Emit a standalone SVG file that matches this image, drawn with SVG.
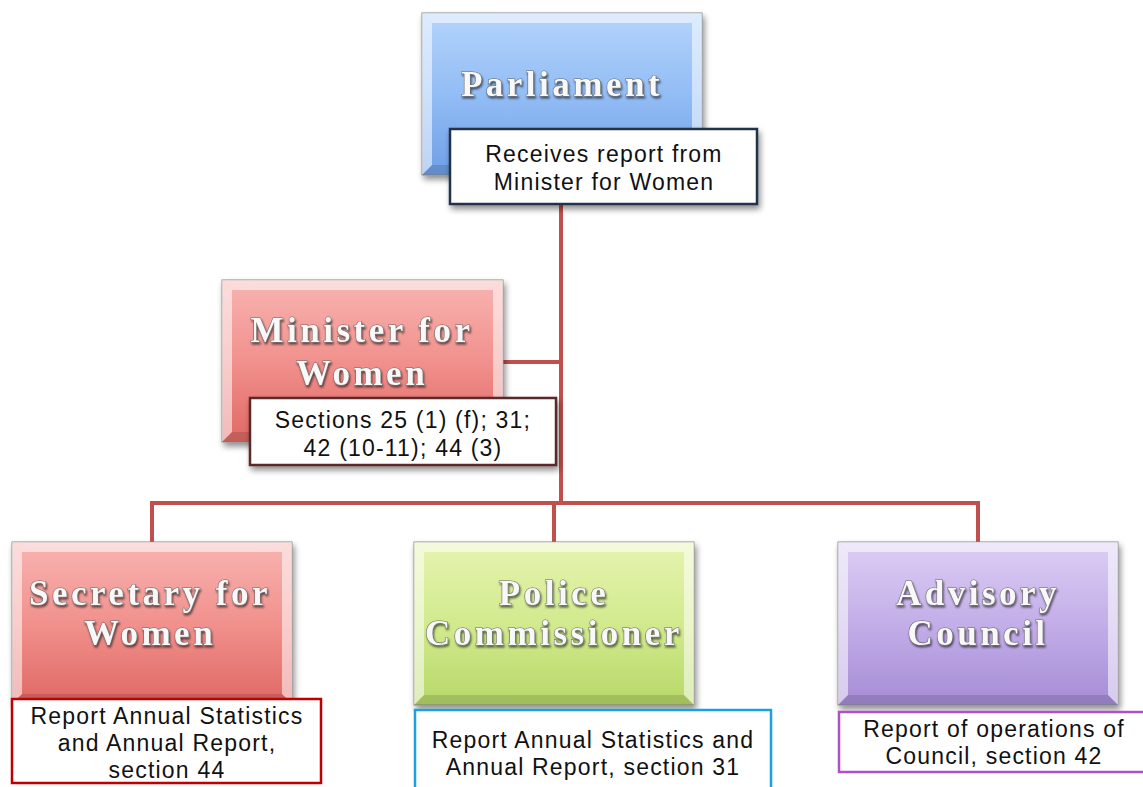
<svg xmlns="http://www.w3.org/2000/svg" width="1143" height="787" viewBox="0 0 1143 787">
<defs>
<linearGradient id="gBlue" x1="0" y1="0" x2="0" y2="1"><stop offset="0" stop-color="#b4d4fb"/><stop offset="0.5" stop-color="#93bdf5"/><stop offset="1" stop-color="#6e9fe6"/></linearGradient>
<linearGradient id="gRed" x1="0" y1="0" x2="0" y2="1"><stop offset="0" stop-color="#f8b4b1"/><stop offset="0.5" stop-color="#f1918d"/><stop offset="1" stop-color="#e06864"/></linearGradient>
<linearGradient id="gGreen" x1="0" y1="0" x2="0" y2="1"><stop offset="0" stop-color="#e6f4b0"/><stop offset="0.5" stop-color="#d2ea8e"/><stop offset="1" stop-color="#b7d868"/></linearGradient>
<linearGradient id="gPurple" x1="0" y1="0" x2="0" y2="1"><stop offset="0" stop-color="#dccef4"/><stop offset="0.5" stop-color="#c3aee8"/><stop offset="1" stop-color="#a68cd6"/></linearGradient>
<filter id="sh" x="-10%" y="-10%" width="125%" height="130%"><feGaussianBlur in="SourceAlpha" stdDeviation="3"/><feOffset dx="2" dy="4"/><feComponentTransfer><feFuncA type="linear" slope="0.45"/></feComponentTransfer><feMerge><feMergeNode/><feMergeNode in="SourceGraphic"/></feMerge></filter>
<filter id="tsh" x="-5%" y="-20%" width="110%" height="150%"><feGaussianBlur in="SourceAlpha" stdDeviation="1"/><feOffset dx="1" dy="2"/><feComponentTransfer><feFuncA type="linear" slope="0.6"/></feComponentTransfer><feMerge><feMergeNode/><feMergeNode in="SourceGraphic"/></feMerge></filter>
</defs>
<style>
.box{stroke:#8a8a8a;stroke-width:1}
.hl{fill:#ffffff;opacity:0.55}
.dk{fill:#000000;opacity:0.12}
.title{font-family:"Liberation Serif","DejaVu Serif",serif;font-weight:bold;font-size:35px;fill:#f8f8f8;stroke:#6a6a6a;stroke-width:1.1;paint-order:stroke;text-anchor:middle;letter-spacing:3.5px}
.cap{fill:#ffffff;stroke-width:2.5}
.ct{font-family:"Liberation Sans",Arial,sans-serif;font-size:23px;fill:#111;text-anchor:middle;letter-spacing:1.2px}
.conn{stroke:#c0504d;stroke-width:4;fill:none}
</style>
<g id="connectors">
<line class="conn" x1="561" y1="205" x2="561" y2="505"/>
<line class="conn" x1="503" y1="362" x2="561" y2="362"/>
<polyline class="conn" points="152,542 152,503 978,503 978,542"/>
<line class="conn" x1="554" y1="503" x2="554" y2="542"/>
</g>
<g id="parliament">
<g filter="url(#sh)">
<rect class="box" x="422" y="13" width="280" height="162" fill="url(#gBlue)"/>
<polygon class="hl" points="422,13 702,13 692,23 432,23"/>
<polygon class="hl" points="422,13 432,23 432,165 422,175"/>
<polygon class="hl" points="702,13 692,23 692,165 702,175"/>
<polygon class="dk" points="422,175 432,165 692,165 702,175"/>
</g>
<text class="title" x="562" y="96" filter="url(#tsh)">Parliament</text>
<g filter="url(#sh)"><rect class="cap" x="450" y="129" width="307" height="75" stroke="#22304a"/></g>
<text class="ct" x="604" y="162">Receives report from</text>
<text class="ct" x="604" y="190">Minister for Women</text>
</g>
<g id="minister">
<g filter="url(#sh)">
<rect class="box" x="222" y="280" width="281" height="162" fill="url(#gRed)"/>
<polygon class="hl" points="222,280 503,280 493,290 232,290"/>
<polygon class="hl" points="222,280 232,290 232,432 222,442"/>
<polygon class="hl" points="503,280 493,290 493,432 503,442"/>
<polygon class="dk" points="222,442 232,432 493,432 503,442"/>
</g>
<text class="title" x="362" y="342" filter="url(#tsh)">Minister for</text>
<text class="title" x="362" y="385" filter="url(#tsh)">Women</text>
<g filter="url(#sh)"><rect class="cap" x="250" y="398" width="306" height="67" stroke="#5a2a2a"/></g>
<text class="ct" x="403" y="428">Sections 25 (1) (f); 31;</text>
<text class="ct" x="403" y="456">42 (10-11); 44 (3)</text>
</g>
<g id="secretary">
<g filter="url(#sh)">
<rect class="box" x="12" y="542" width="280" height="162" fill="url(#gRed)"/>
<polygon class="hl" points="12,542 292,542 282,552 22,552"/>
<polygon class="hl" points="12,542 22,552 22,694 12,704"/>
<polygon class="hl" points="292,542 282,552 282,694 292,704"/>
<polygon class="dk" points="12,704 22,694 282,694 292,704"/>
</g>
<text class="title" x="150" y="605" filter="url(#tsh)">Secretary for</text>
<text class="title" x="150" y="645" filter="url(#tsh)">Women</text>
<rect class="cap" x="12" y="699" width="309" height="84" stroke="#c00000"/>
<text class="ct" x="167" y="724">Report Annual Statistics</text>
<text class="ct" x="167" y="751">and Annual Report,</text>
<text class="ct" x="167" y="778">section 44</text>
</g>
<g id="police">
<g filter="url(#sh)">
<rect class="box" x="414" y="542" width="280" height="163" fill="url(#gGreen)"/>
<polygon class="hl" points="414,542 694,542 684,552 424,552"/>
<polygon class="hl" points="414,542 424,552 424,695 414,705"/>
<polygon class="hl" points="694,542 684,552 684,695 694,705"/>
<polygon class="dk" points="414,705 424,695 684,695 694,705"/>
</g>
<text class="title" x="554" y="605" filter="url(#tsh)">Police</text>
<text class="title" x="554" y="645" filter="url(#tsh)">Commissioner</text>
<rect class="cap" x="415" y="710" width="356" height="82" stroke="#1ba1e2"/>
<text class="ct" x="593" y="748">Report Annual Statistics and</text>
<text class="ct" x="593" y="775">Annual Report, section 31</text>
</g>
<g id="advisory">
<g filter="url(#sh)">
<rect class="box" x="838" y="542" width="280" height="163" fill="url(#gPurple)"/>
<polygon class="hl" points="838,542 1118,542 1108,552 848,552"/>
<polygon class="hl" points="838,542 848,552 848,695 838,705"/>
<polygon class="hl" points="1118,542 1108,552 1108,695 1118,705"/>
<polygon class="dk" points="838,705 848,695 1108,695 1118,705"/>
</g>
<text class="title" x="978" y="605" filter="url(#tsh)">Advisory</text>
<text class="title" x="978" y="645" filter="url(#tsh)">Council</text>
<rect class="cap" x="839" y="712" width="310" height="60" stroke="#b050c8"/>
<text class="ct" x="994" y="737">Report of operations of</text>
<text class="ct" x="994" y="764">Council, section 42</text>
</g>
</svg>
